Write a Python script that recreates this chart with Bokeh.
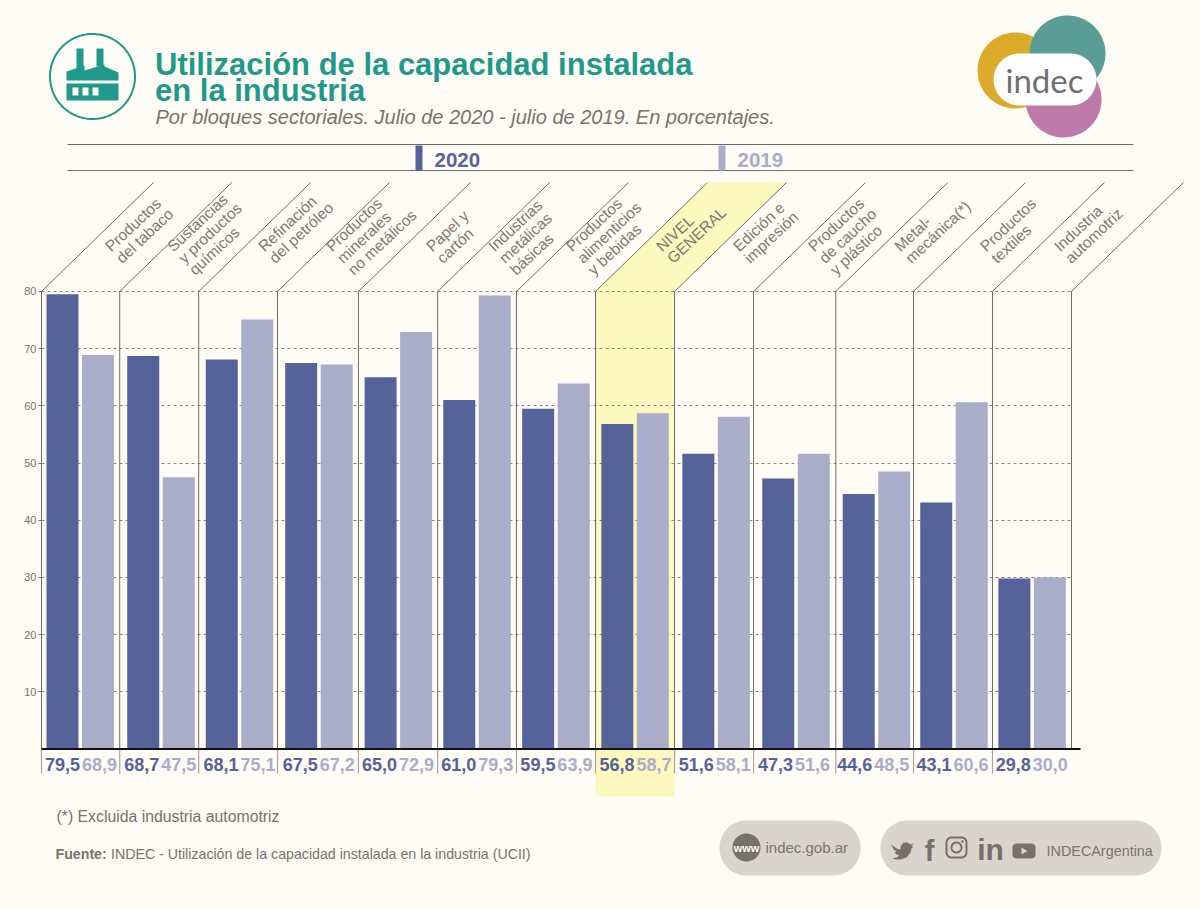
import math
import numpy as np
from bokeh.plotting import figure
from bokeh.core.properties import value
from bokeh.models import Range1d, LinearAxis, FixedTicker, Grid
from bokeh.embed import file_html
from bokeh.resources import INLINE

categories = ["Productos\ndel tabaco", "Sustancias\ny productos\nquímicos", "Refinación\ndel petróleo",
              "Productos\nminerales\nno metálicos", "Papel y\ncartón", "Industrias\nmetálicas\nbásicas",
              "Productos\nalimenticios\ny bebidas", "NIVEL\nGENERAL", "Edición e\nimpresión",
              "Productos\nde caucho\ny plástico", "Metal-\nmecánica(*)", "Productos\ntextiles",
              "Industria\nautomotriz"]
values_2020 = [79.5, 68.7, 68.1, 67.5, 65.0, 61.0, 59.5, 56.8, 51.6, 47.3, 44.6, 43.1, 29.8]
values_2019 = [68.9, 47.5, 75.1, 67.2, 72.9, 79.3, 63.9, 58.7, 58.1, 51.6, 48.5, 60.6, 30.0]
y_ticks = [10, 20, 30, 40, 50, 60, 70, 80]

BG = "#fffcf5"; TEAL = "#1f9a8a"; DARK = "#56639a"; LIGHT = "#a9adc9"; GREY = "#77736c"; YEL = "#fdf8bd"
SANS = "Liberation Sans"
n = len(categories)
X0, X1, STEP = 41.0, 1071.0, (1071.0 - 41.0) / n
Y0, UNIT = 748.5, 5.72
L, R, T_, B = 0, 1200, 0, 909

# the source's hand-set groups are not quite evenly spaced (layout nudges, in pixels)
bar_nudge = np.array([0, 1.5, .8, 1, 1.2, .6, .3, .2, 2, 2.7, 3.9, 2.2, 1.1])
edge_nudge = np.array([0, -1, -1.3, -1.7, 0, 0, -.4, -.6, -.8, -1, 2, .5, .2, 0])

p = figure(width=1200, height=909, toolbar_location=None, output_backend="svg", min_border=0,
           x_range=Range1d((L - X0) / STEP, (R - X0) / STEP),
           y_range=Range1d((Y0 - B) / UNIT, (Y0 - T_) / UNIT),
           x_axis_location=None, y_axis_location=None, outline_line_color=None,
           background_fill_color=BG, border_fill_color=BG)
p.grid.visible = False
p.extra_x_ranges["px"] = Range1d(L, R)
p.extra_y_ranges["px"] = Range1d(B, T_)
PX = dict(x_range_name="px", y_range_name="px")

def text(x, y, s, size, color=GREY, style="normal", align="left", base="middle", angle=0, font=SANS, **kw):
    args = dict(PX); args.update(kw)
    p.text([x], [y], text=[s], text_font=value(font), text_font_size=f"{size}px", text_color=color,
           text_font_style=style, text_align=align, text_baseline=base, angle=[angle], **args)

def poly(pts, color, **kw):
    xs, ys = zip(*pts)
    return p.patch(list(xs), list(ys), fill_color=color, line_color=None, **PX, **kw)

def pill(x0, x1, y0, y1, r, color, **kw):
    a = np.linspace(0, math.pi / 2, 12)
    xs = np.r_[x1 - r + r * np.sin(a), x1 - r + r * np.cos(a), x0 + r - r * np.sin(a), x0 + r - r * np.cos(a)]
    ys = np.r_[y0 + r - r * np.cos(a), y1 - r + r * np.sin(a), y1 - r + r * np.cos(a), y0 + r - r * np.sin(a)]
    return p.patch(list(xs), list(ys), fill_color=color, line_color=kw.pop("line_color", None), **PX, **kw)

def disc(x, y, r, color, **kw):
    a = np.linspace(0, 2 * math.pi, 120)
    return p.patch(list(x + r * np.cos(a)), list(y + r * np.sin(a)), fill_color=color,
                   line_color=kw.pop("line_color", None), **PX, **kw)

edges = np.arange(n + 1) + edge_nudge / STEP
edge_px = X0 + edges * STEP

# highlight band for the general level
hi = categories.index("NIVEL\nGENERAL")
hx0, hx1 = edge_px[hi], edge_px[hi + 1]
yb = p.patch([hx0, hx0 + 112, hx1 + 112, hx1, hx1, hx0], [291, 182, 182, 291, 796, 796],
             fill_color=YEL, line_color=None, level="image", **PX)

# axis and grid
ticker = FixedTicker(ticks=y_ticks)
axis = LinearAxis(fixed_location=0, ticker=ticker, major_label_text_font=SANS,
                  major_label_text_font_size="11px", major_label_text_color=GREY,
                  major_tick_in=0, major_tick_out=3, major_tick_line_color=GREY,
                  axis_line_color=None, minor_tick_line_color=None, major_label_standoff=2)
p.add_layout(axis, "left")
grid = Grid(dimension=1, ticker=ticker, grid_line_color="#8a8780", grid_line_dash=[3, 3], grid_line_width=1,
            cross_bounds=(0, n))
p.add_layout(grid)

# bars
idx = np.arange(n) + bar_nudge / STEP
W = 32 / STEP
p.vbar(x=idx + 21 / STEP, top=values_2020, width=W, bottom=0, fill_color=DARK, line_color=None)
p.vbar(x=idx + 56.5 / STEP, top=values_2019, width=W, bottom=0, fill_color=LIGHT, line_color=None)

# separators, diagonals, baseline
p.segment(x0=edges, y0=[0] * (n + 1), x1=edges, y1=[80.1] * (n + 1), line_color="#6f6c66", line_width=1)
p.segment(x0=edges[:-1], y0=[773] * n, x1=edges[:-1], y1=[749] * n, line_color="#a8a59f", line_width=1.2,
          y_range_name="px")
p.segment(x0=edges, y0=[291] * (n + 1), x1=edges + 112 / STEP, y1=[182] * (n + 1), line_color="#6f6c66",
          line_width=1, y_range_name="px")
p.line([0, 1039 / STEP], [0, 0], line_color="#111111", line_width=2)

# value labels
lab = lambda v: f"{v:.1f}".replace(".", ",")
for i in range(n):
    text(i + 21 / STEP, 764, lab(values_2020[i]), 18, DARK, "bold", "center", x_range_name="default", y_range_name="px")
    text(i + 58 / STEP, 764, lab(values_2019[i]), 18, LIGHT, "bold", "center", x_range_name="default", y_range_name="px")

# rotated category labels
starts = [66, 50, 62, 51, 70, 53, 52, 63, 61, 57, 61, 69, 64]
ANG = math.radians(43)
for i, c in enumerate(categories):
    for j, line in enumerate(c.split("\n")):
        x = edge_px[i] + starts[i] + j * 16 * math.sin(ANG)
        y = 248 + j * 16 * math.cos(ANG)
        text(x, y, line, 15.5, "#7d7a73", angle=ANG)

# header
p.segment([67, 67], [144, 170], [1133, 1133], [144, 170], line_color="#6f6c66", line_width=1, **PX)
disc(92, 76, 42.5, None, fill_alpha=0, line_color=TEAL, line_width=2)
poly([(76, 48), (83, 48), (83, 67), (76, 69)], TEAL)
poly([(96, 48), (103, 48), (103, 65), (96, 66)], TEAL)
poly([(66, 80), (66, 71), (84, 65), (84, 70), (104, 64), (104, 66), (118, 72), (118, 80)], TEAL)
poly([(66, 83), (118, 83), (118, 100), (66, 100)], TEAL)
for wx in (72, 82, 92):
    poly([(wx, 87), (wx + 6, 87), (wx + 6, 95), (wx, 95)], BG)

text(154.5, 64, "Utilización de la capacidad instalada", 31, TEAL, "bold")
text(154.5, 90, "en la industria", 31, TEAL, "bold")
text(155, 116, "Por bloques sectoriales. Julio de 2020 - julio de 2019. En porcentajes.", 20, GREY, "italic")

poly([(415, 145), (422, 145), (422, 170), (415, 170)], DARK)
text(434, 159, "2020", 20.5, DARK, "bold")
poly([(718, 145), (725, 145), (725, 170), (718, 170)], LIGHT)
text(737, 159, "2019", 20.5, LIGHT, "bold")

# logo
disc(1015, 70, 38, "#dcab2c")
disc(1063, 99, 38, "#bd7aa8")
disc(1067, 53, 38, "#5a9c96")
pill(993, 1096, 53, 105, 26, "#ffffff")
text(1044, 79, "indec", 33, "#6f6f6f", "normal", "center", font="Lato")

# footer
text(56, 816, "(*) Excluida industria automotriz", 15.8)
text(55, 853, "Fuente:", 14.2, GREY, "bold")
text(110.5, 853, "INDEC - Utilización de la capacidad instalada en la industria (UCII)", 14.2)

PILL = "#d9d5ce"; ICON = "#76716b"
pill(719, 860, 820, 875, 27, PILL)
pill(880, 1161, 820, 875, 27, PILL)
disc(746, 847, 14, ICON)
text(746, 847, "www", 11, BG, "bold", "center")
text(765, 847, "indec.gob.ar", 15, GREY)
poly([(891, 844), (896, 848), (900, 849), (900, 846), (903, 842), (907, 842), (910, 844), (913, 843), (911, 846),
      (913, 846), (911, 848), (910, 852), (906, 857), (900, 859), (895, 859), (892, 858), (896, 857), (899, 855),
      (896, 854), (894, 852), (896, 851), (893, 849), (892, 847)], ICON)
text(929, 850, "f", 29, ICON, "bold", "center")
pill(946, 966, 837, 857, 5, None, fill_alpha=0, line_color=ICON, line_width=2)
disc(956, 847, 5, None, fill_alpha=0, line_color=ICON, line_width=2)
disc(962, 841, 1.3, ICON)
text(990, 849, "in", 30, ICON, "bold", "center")
pill(1012, 1035, 843, 858, 4, ICON)
poly([(1021, 847), (1021, 854), (1027, 850.5)], PILL)
text(1046, 850, "INDECArgentina", 14.4, GREY)

html = file_html(p, INLINE)
html = html.replace("</head>", f"<style>html,body{{background:{BG};overflow:hidden;}}</style></head>", 1)
open("out.html", "w", encoding="utf-8").write(html)
